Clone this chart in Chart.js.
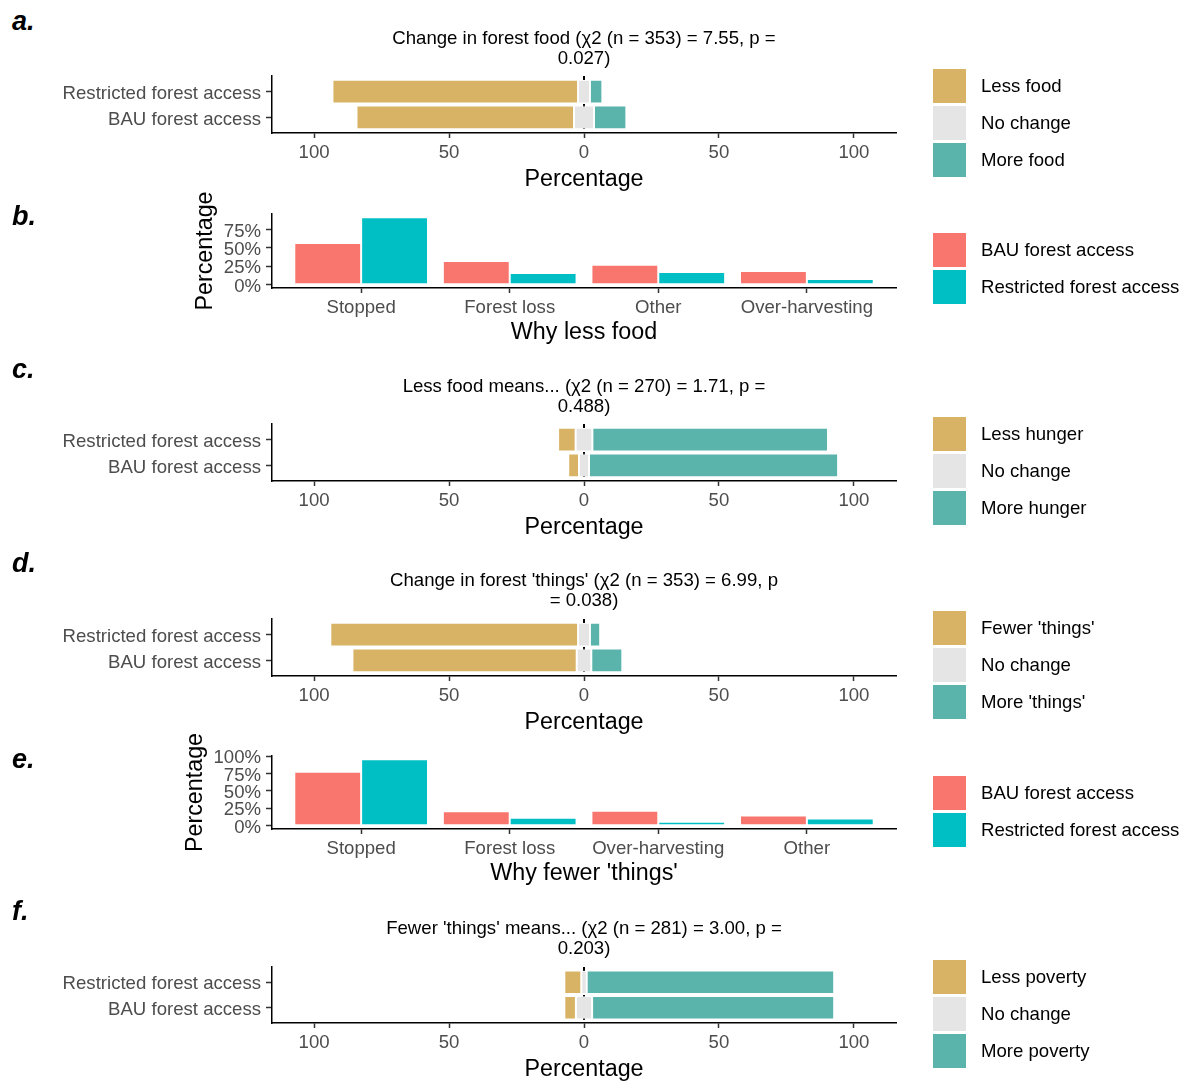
<!DOCTYPE html>
<html lang="en">
<head>
<meta charset="utf-8">
<title>Forest access, food and 'things'</title>
<script src="https://cdn.jsdelivr.net/npm/chart.js@4.4.1/dist/chart.umd.min.js"></script>
<style>
  html, body { margin: 0; padding: 0; background: #fff; }
  body { position: relative; width: 1191px; height: 1082px; overflow: hidden;
         font-family: "Liberation Sans", Arial, Helvetica, sans-serif; }
  canvas { position: absolute; left: 0; }
  .txt { position: absolute; white-space: nowrap; line-height: 1; }
  .key { position: absolute; width: 33px; height: 34px; }
</style>
</head>
<body>
<script>
// ---------------- data ----------------
const accessGroups = ['BAU forest access', 'Restricted forest access'];

// a. Change in forest food (% of respondents)
const foodLess = [80.6, 91.0];
const foodSame = [7.4, 4.4];
const foodMore = [12.0, 4.6];

// c. Less food means...
const hungerLess = [4.0, 6.5];
const hungerSame = [3.7, 6.2];
const hungerMore = [92.3, 87.3];

// d. Change in forest 'things'
const thingsFewer = [83.1, 91.8];
const thingsSame = [5.4, 4.4];
const thingsMore = [11.5, 3.8];

// f. Fewer 'things' means...
const povertyLess = [4.3, 6.3];
const povertySame = [6.0, 2.0];
const povertyMore = [89.7, 91.7];

// b. Why less food
const whyFoodReasons = ['Stopped', 'Forest loss', 'Other', 'Over-harvesting'];
const whyFoodBAU = [56.8, 32.3, 27.3, 18.6];
const whyFoodRestricted = [91.8, 15.9, 17.3, 7.7];

// e. Why fewer 'things'
const whyThingsReasons = ['Stopped', 'Forest loss', 'Over-harvesting', 'Other'];
const whyThingsBAU = [77.5, 20.7, 21.6, 14.6];
const whyThingsRestricted = [95.3, 11.3, 5.6, 10.3];

// tick labels
const percentTicks = [-100, -50, 0, 50, 100];
const shareTicksB = [0, 25, 50, 75];
const shareTicksE = [0, 25, 50, 75, 100];

// ---------------- styling ----------------
const FONT = '"Liberation Sans", Arial, Helvetica, sans-serif';
const GOLD = '#d8b365', GREY = '#e5e5e5', TEAL = '#5ab4ac';
const RED = '#f8766d', CYAN = '#00bfc4';
const TICK_TEXT = '#4d4d4d', TICK_MARK = '#333333';
const W = 1191, PLOT_LEFT = 272, PLOT_RIGHT = 896, PAD_TOP = 30;
const TICK_SIZE = 18.6, TITLE_SIZE = 23.3;

Chart.defaults.font.family = FONT;
Chart.defaults.animation = false;

function addText(text, x, y, o = {}) {
  const d = document.createElement('div');
  d.className = 'txt';
  d.textContent = text;
  d.style.left = x + 'px';
  d.style.top = y + 'px';
  d.style.fontSize = (o.size || TICK_SIZE) + 'px';
  d.style.color = o.color || '#000';
  if (o.weight) d.style.fontWeight = o.weight;
  if (o.italic) d.style.fontStyle = 'italic';
  d.style.transform = o.align === 'left' ? 'translate(0,-50%)' : 'translate(-50%,-50%)';
  document.body.appendChild(d);
}

function addLegend(labels, colors, centers) {
  labels.forEach((lab, i) => {
    const k = document.createElement('div');
    k.className = 'key';
    k.style.left = '933px';
    k.style.top = (centers[i] - 17) + 'px';
    k.style.background = colors[i];
    document.body.appendChild(k);
    addText(lab, 981, centers[i], { align: 'left' });
  });
}

function makeCanvas(top, height) {
  const c = document.createElement('canvas');
  c.width = W; c.height = height;
  c.style.top = top + 'px';
  c.style.width = W + 'px'; c.style.height = height + 'px';
  document.body.appendChild(c);
  return c;
}

const fixedTicks = vals => scale => { scale.ticks = vals.map(v => ({ value: v })); };

// dashed reference line at zero, drawn beneath the bars
const zeroLine = {
  id: 'zeroLine',
  beforeDatasetsDraw(chart) {
    const { ctx, chartArea, scales } = chart;
    const px = scales.x.getPixelForValue(0);
    ctx.save();
    ctx.strokeStyle = '#000';
    ctx.lineWidth = 2;
    ctx.setLineDash([4, 3]);
    ctx.beginPath();
    ctx.moveTo(px, chartArea.top);
    ctx.lineTo(px, chartArea.bottom);
    ctx.stroke();
    ctx.restore();
  }
};

const tickGrid = len => ({ drawOnChartArea: false, drawTicks: true, offset: false,
                           tickLength: len, tickColor: TICK_MARK, tickWidth: 1.5 });
const axisBorder = { display: true, color: '#000', width: 1.5 };

// diverging stacked bars: half of "no change" on either side of zero
function likertPanel(p) {
  const xAxisH = 61;
  const h = PAD_TOP + (p.axis - p.plotTop) + xAxisH;
  const canvas = makeCanvas(p.plotTop - PAD_TOP, h);
  const rows = accessGroups.map((_, i) => i + 1);
  const seg = fn => rows.map((y, i) => ({ y, x: fn(i) }));
  new Chart(canvas, {
    type: 'bar',
    data: {
      datasets: [
        { label: p.legend[0], backgroundColor: GOLD,
          data: seg(i => [-p.same[i] / 2 - p.less[i], -p.same[i] / 2]) },
        { label: p.legend[1], backgroundColor: GREY,
          data: seg(i => [-p.same[i] / 2, p.same[i] / 2]) },
        { label: p.legend[2], backgroundColor: TEAL,
          data: seg(i => [p.same[i] / 2, p.same[i] / 2 + p.more[i]]) }
      ]
    },
    options: {
      indexAxis: 'y',
      responsive: false,
      devicePixelRatio: 1,
      layout: { padding: { left: 0, right: W - PLOT_RIGHT, top: PAD_TOP, bottom: 0 } },
      plugins: { legend: { display: false }, tooltip: { enabled: false } },
      datasets: { bar: { grouped: false, categoryPercentage: 1, barPercentage: 0.92,
                         borderWidth: 1, borderColor: 'rgba(255,255,255,0.55)', borderSkipped: false } },
      scales: {
        x: {
          type: 'linear', min: -115.6, max: 115.6, offset: false,
          afterBuildTicks: fixedTicks(percentTicks),
          afterFit: s => { s.height = xAxisH; },
          grid: tickGrid(5), border: axisBorder,
          ticks: { callback: v => String(Math.abs(v)), color: TICK_TEXT, padding: 4,
                   font: { size: TICK_SIZE }, maxRotation: 0, autoSkip: false },
          title: { display: true, text: 'Percentage', color: '#000',
                   font: { size: TITLE_SIZE }, padding: { top: 0, bottom: 0 } }
        },
        y: {
          type: 'linear', min: 0.4, max: 2.6, offset: false,
          afterBuildTicks: fixedTicks(rows),
          afterFit: s => { s.width = PLOT_LEFT; },
          grid: tickGrid(6), border: axisBorder,
          ticks: { callback: v => accessGroups[v - 1], color: TICK_TEXT, padding: 5,
                   labelOffset: 2, font: { size: TICK_SIZE }, autoSkip: false }
        }
      }
    },
    plugins: [zeroLine]
  });
  addText(p.title[0], 584, p.titleY);
  addText(p.title[1], 584, p.titleY + 20);
  addText(p.letter, 12, p.letterY, { size: 27, weight: 'bold', italic: true, align: 'left' });
  addLegend(p.legend, [GOLD, GREY, TEAL], p.legendY);
}

// grouped bars of reasons, BAU vs restricted
function reasonPanel(p) {
  const xAxisH = 59;
  const h = PAD_TOP + (p.axis - p.plotTop) + xAxisH;
  const canvas = makeCanvas(p.plotTop - PAD_TOP, h);
  const pos = p.reasons.map((_, i) => i + 1);
  new Chart(canvas, {
    type: 'bar',
    data: {
      datasets: [
        { label: accessGroups[0], backgroundColor: RED,
          data: pos.map((x, i) => ({ x, y: p.bau[i] })) },
        { label: accessGroups[1], backgroundColor: CYAN,
          data: pos.map((x, i) => ({ x, y: p.restricted[i] })) }
      ]
    },
    options: {
      responsive: false,
      devicePixelRatio: 1,
      layout: { padding: { left: 0, right: W - PLOT_RIGHT, top: PAD_TOP, bottom: 0 } },
      plugins: { legend: { display: false }, tooltip: { enabled: false } },
      datasets: { bar: { categoryPercentage: 0.9, barPercentage: 1,
                         borderWidth: 1, borderColor: 'rgba(255,255,255,0.55)', borderSkipped: false } },
      scales: {
        x: {
          type: 'linear', min: 0.4, max: pos.length + 0.6, offset: false,
          afterBuildTicks: fixedTicks(pos),
          afterFit: s => { s.height = xAxisH; },
          grid: tickGrid(5), border: axisBorder,
          ticks: { callback: v => p.reasons[v - 1], color: TICK_TEXT, padding: 4,
                   font: { size: TICK_SIZE }, maxRotation: 0, autoSkip: false },
          title: { display: true, text: p.xTitle, color: '#000',
                   font: { size: TITLE_SIZE }, padding: { top: 0, bottom: 0 } }
        },
        y: {
          type: 'linear', min: p.yMin, max: p.yMax, offset: false,
          afterBuildTicks: fixedTicks(p.yTicks),
          afterFit: s => { s.width = PLOT_LEFT; },
          grid: tickGrid(6), border: axisBorder,
          ticks: { callback: v => v + '%', color: TICK_TEXT, padding: 5,
                   labelOffset: 2, font: { size: TICK_SIZE }, autoSkip: false },
          title: { display: true, text: 'Percentage', color: '#000',
                   font: { size: TITLE_SIZE }, padding: { top: p.yTitleX - 14, bottom: 0 } }
        }
      }
    }
  });
  addText(p.letter, 12, p.letterY, { size: 27, weight: 'bold', italic: true, align: 'left' });
  addLegend(accessGroups, [RED, CYAN], p.legendY);
}

likertPanel({
  letter: 'a.', letterY: 21, plotTop: 76, axis: 133, titleY: 38,
  title: ['Change in forest food (\u03c72 (n = 353) = 7.55, p =', '0.027)'],
  less: foodLess, same: foodSame, more: foodMore,
  legend: ['Less food', 'No change', 'More food'], legendY: [86, 123, 160]
});

reasonPanel({
  letter: 'b.', letterY: 216, plotTop: 214, axis: 288,
  reasons: whyFoodReasons, bau: whyFoodBAU, restricted: whyFoodRestricted,
  yMin: -4.59, yMax: 96.4, yTicks: shareTicksB, yTitleX: 206,
  xTitle: 'Why less food', legendY: [250, 287]
});

likertPanel({
  letter: 'c.', letterY: 369, plotTop: 424, axis: 481, titleY: 386,
  title: ['Less food means... (\u03c72 (n = 270) = 1.71, p =', '0.488)'],
  less: hungerLess, same: hungerSame, more: hungerMore,
  legend: ['Less hunger', 'No change', 'More hunger'], legendY: [434, 471, 508]
});

likertPanel({
  letter: 'd.', letterY: 563, plotTop: 619, axis: 676, titleY: 580,
  title: ["Change in forest 'things' (\u03c72 (n = 353) = 6.99, p", '= 0.038)'],
  less: thingsFewer, same: thingsSame, more: thingsMore,
  legend: ["Fewer 'things'", 'No change', "More 'things'"], legendY: [628, 665, 702]
});

reasonPanel({
  letter: 'e.', letterY: 759, plotTop: 756, axis: 829,
  reasons: whyThingsReasons, bau: whyThingsBAU, restricted: whyThingsRestricted,
  yMin: -4.77, yMax: 100.1, yTicks: shareTicksE, yTitleX: 196,
  xTitle: "Why fewer 'things'", legendY: [793, 830]
});

likertPanel({
  letter: 'f.', letterY: 911, plotTop: 967, axis: 1023, titleY: 928,
  title: ["Fewer 'things' means... (\u03c72 (n = 281) = 3.00, p =", '0.203)'],
  less: povertyLess, same: povertySame, more: povertyMore,
  legend: ['Less poverty', 'No change', 'More poverty'], legendY: [977, 1014, 1051]
});
</script>
</body>
</html>
